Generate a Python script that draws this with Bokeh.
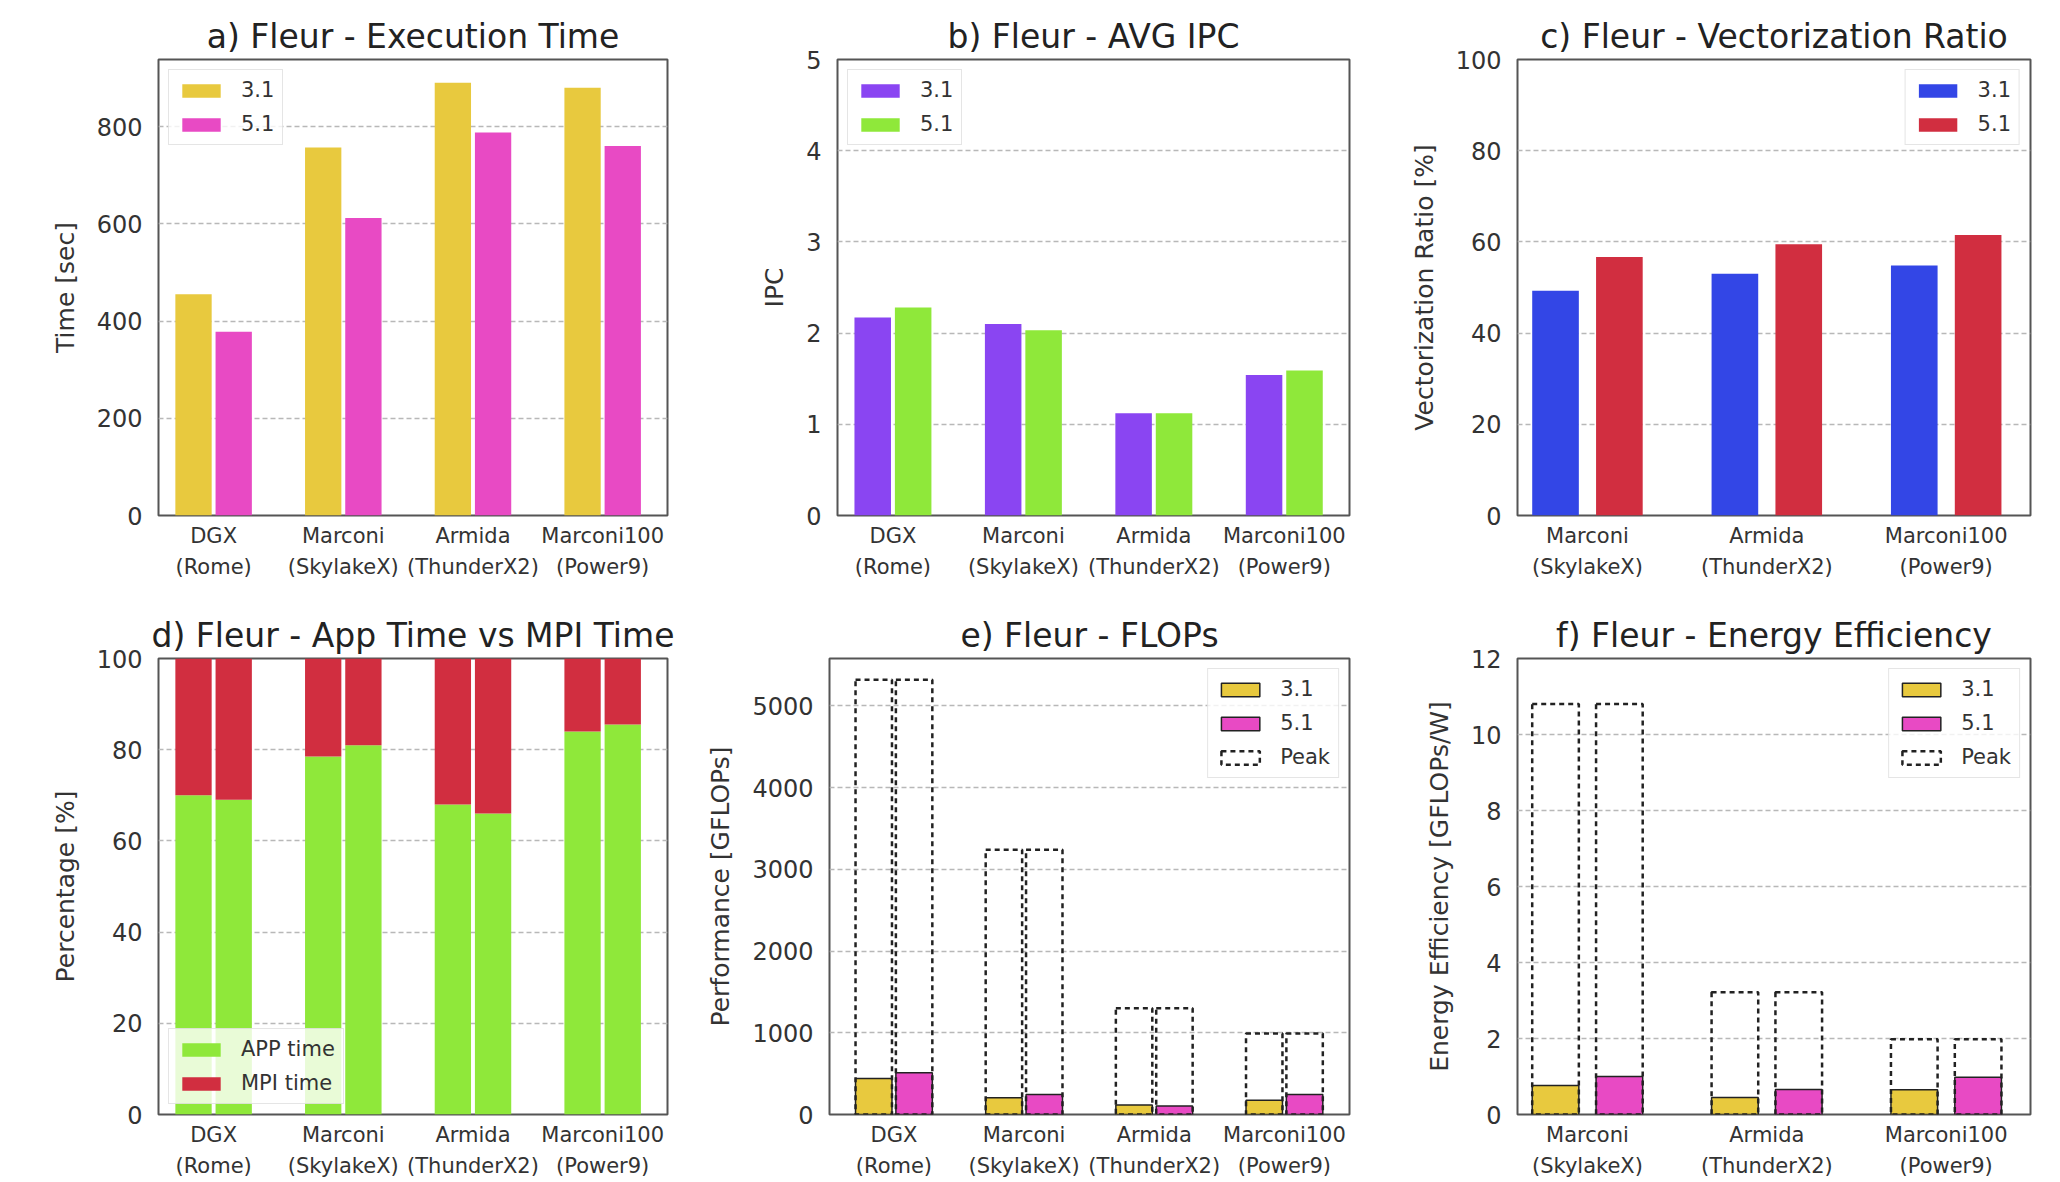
from bokeh.plotting import figure
from bokeh.layouts import column, row
from bokeh.models import FixedTicker, Range1d
from bokeh.embed import file_html
from bokeh.resources import INLINE

# ---------------- data ----------------
systems4 = ["DGX\n(Rome)", "Marconi\n(SkylakeX)", "Armida\n(ThunderX2)", "Marconi100\n(Power9)"]
systems3 = ["Marconi\n(SkylakeX)", "Armida\n(ThunderX2)", "Marconi100\n(Power9)"]

time_31 = [455, 757, 890, 880]
time_51 = [378, 612, 788, 760]

ipc_31 = [2.17, 2.10, 1.12, 1.54]
ipc_51 = [2.28, 2.03, 1.12, 1.59]

vec_31 = [49.3, 53.0, 54.8]
vec_51 = [56.7, 59.5, 61.5]

app_31 = [70.0, 78.5, 68.0, 84.0]
app_51 = [69.0, 81.0, 66.0, 85.5]
mpi_31 = [30.0, 21.5, 32.0, 16.0]
mpi_51 = [31.0, 19.0, 34.0, 14.5]

flops_31 = [440, 205, 115, 175]
flops_51 = [510, 245, 105, 245]
flops_peak = [5320, 3240, 1300, 990]

ee_31 = [0.76, 0.45, 0.65]
ee_51 = [1.00, 0.66, 0.98]
ee_peak = [10.8, 3.22, 1.98]

# ---------------- style ----------------
YELLOW = "#E8C93E"
MAGENTA = "#E84AC4"
PURPLE = "#8A45F2"
GREEN = "#8FE83A"
BLUE = "#3346E6"
RED = "#D12E40"
FONT = "DejaVu Sans"


def make_fig(title, ylabel, xr, yr, yticks, labels, width, left, right, height, top, bottom):
    p = figure(width=width, height=height, x_range=Range1d(*xr), y_range=Range1d(*yr),
               output_backend="svg", toolbar_location=None, tools="",
               min_border_left=left, min_border_right=right,
               min_border_top=top, min_border_bottom=bottom)
    p.title.text = title
    p.title.align = "center"
    p.title.text_font = FONT
    p.title.text_font_size = "33px"
    p.title.text_font_style = "normal"
    p.title.text_color = "#222222"
    p.title.standoff = 8

    p.outline_line_color = "#555555"
    p.outline_line_width = 2
    p.background_fill_color = "white"
    p.border_fill_color = "white"

    p.xgrid.grid_line_color = None
    p.ygrid.grid_line_color = "#b8b8b8"
    p.ygrid.grid_line_dash = "5 3"
    p.ygrid.grid_line_width = 1.5

    p.yaxis.ticker = FixedTicker(ticks=yticks)
    p.xaxis.ticker = FixedTicker(ticks=list(range(len(labels))))
    p.xaxis.major_label_overrides = {i: lab for i, lab in enumerate(labels)}

    for ax in (p.xaxis[0], p.yaxis[0]):
        ax.axis_line_color = None
        ax.major_tick_line_color = None
        ax.minor_tick_line_color = None
        ax.major_tick_out = 0
        ax.major_tick_in = 0
        ax.major_label_text_font = FONT
        ax.major_label_text_color = "#333333"
        ax.axis_label_text_font = FONT
        ax.axis_label_text_font_style = "normal"
        ax.axis_label_text_color = "#333333"
    p.xaxis.major_label_text_font_size = "21px"
    p.xaxis.major_label_text_line_height = 1.3
    p.xaxis.major_label_standoff = 8
    p.yaxis.major_label_text_font_size = "24px"
    p.yaxis.major_label_standoff = 16
    p.yaxis.axis_label = ylabel
    p.yaxis.axis_label_text_font_size = "25px"
    p.yaxis.axis_label_standoff = 14
    return p


def style_legend(p, location):
    lg = p.legend[0]
    lg.location = location
    lg.label_text_font = FONT
    lg.label_text_font_size = "21px"
    lg.label_text_color = "#333333"
    lg.glyph_width = 48
    lg.glyph_height = 17
    lg.spacing = 10
    lg.label_standoff = 16
    lg.padding = 8
    lg.margin = 10
    lg.border_line_color = "#cccccc"
    lg.border_line_width = 1.5
    lg.background_fill_alpha = 0.8


X4 = (-0.425, 3.5)
X4e = (-0.495, 3.5)
X3 = (-0.39, 2.47)
OFF4, W4 = 0.155, 0.28
OFF3, W3 = 0.178, 0.26

idx4 = list(range(len(systems4)))
idx3 = list(range(len(systems3)))
x4a = [i - OFF4 for i in idx4]
x4b = [i + OFF4 for i in idx4]
x3a = [i - OFF3 for i in idx3]
x3b = [i + OFF3 for i in idx3]

TOP_H, TOP_T, TOP_B = 588, 59, 73
BOT_H, BOT_T, BOT_B = 592, 70, 66

PEAK_KW = dict(fill_color=None, line_color="#222222", line_width=2.5, line_dash="5 4")
BAR_KW = dict(line_color="#222222", line_width=1.5)

# a) execution time
pa = make_fig("a) Fleur - Execution Time", "Time [sec]", X4, (0, 938), [0, 200, 400, 600, 800],
              systems4, 688, 158, 21, TOP_H, TOP_T, TOP_B)
pa.vbar(x=x4a, top=time_31, width=W4, fill_color=YELLOW, line_color=None, legend_label="3.1")
pa.vbar(x=x4b, top=time_51, width=W4, fill_color=MAGENTA, line_color=None, legend_label="5.1")
style_legend(pa, "top_left")

# b) IPC
pb = make_fig("b) Fleur - AVG IPC", "IPC", X4, (0, 5), [0, 1, 2, 3, 4, 5],
              systems4, 680, 149, 19, TOP_H, TOP_T, TOP_B)
pb.vbar(x=x4a, top=ipc_31, width=W4, fill_color=PURPLE, line_color=None, legend_label="3.1")
pb.vbar(x=x4b, top=ipc_51, width=W4, fill_color=GREEN, line_color=None, legend_label="5.1")
style_legend(pb, "top_left")

# c) vectorization ratio
pc = make_fig("c) Fleur - Vectorization Ratio", "Vectorization Ratio [%]", X3, (0, 100),
              [0, 20, 40, 60, 80, 100], systems3, 680, 149, 18, TOP_H, TOP_T, TOP_B)
pc.vbar(x=x3a, top=vec_31, width=W3, fill_color=BLUE, line_color=None, legend_label="3.1")
pc.vbar(x=x3b, top=vec_51, width=W3, fill_color=RED, line_color=None, legend_label="5.1")
style_legend(pc, "top_right")

# d) app vs mpi time
pd_ = make_fig("d) Fleur - App Time vs MPI Time", "Percentage [%]", X4, (0, 100),
               [0, 20, 40, 60, 80, 100], systems4, 688, 158, 21, BOT_H, BOT_T, BOT_B)
pd_.vbar(x=x4a, bottom=0, top=app_31, width=W4, fill_color=GREEN, line_color=None, legend_label="APP time")
pd_.vbar(x=x4a, bottom=app_31, top=[a + m for a, m in zip(app_31, mpi_31)], width=W4,
         fill_color=RED, line_color=None, legend_label="MPI time")
pd_.vbar(x=x4b, bottom=0, top=app_51, width=W4, fill_color=GREEN, line_color=None)
pd_.vbar(x=x4b, bottom=app_51, top=[a + m for a, m in zip(app_51, mpi_51)], width=W4,
         fill_color=RED, line_color=None)
style_legend(pd_, "bottom_left")

# e) FLOPs
pe = make_fig("e) Fleur - FLOPs", "Performance [GFLOPs]", X4e, (0, 5580),
              [0, 1000, 2000, 3000, 4000, 5000], systems4, 680, 141, 19, BOT_H, BOT_T, BOT_B)
pe.vbar(x=x4a, top=flops_31, width=W4, fill_color=YELLOW, legend_label="3.1", **BAR_KW)
pe.vbar(x=x4b, top=flops_51, width=W4, fill_color=MAGENTA, legend_label="5.1", **BAR_KW)
pe.vbar(x=x4a, top=flops_peak, width=W4, legend_label="Peak", **PEAK_KW)
pe.vbar(x=x4b, top=flops_peak, width=W4, **PEAK_KW)
style_legend(pe, "top_right")

# f) energy efficiency
pf = make_fig("f) Fleur - Energy Efficiency", "Energy Efficiency [GFLOPs/W]", X3, (0, 12),
              [0, 2, 4, 6, 8, 10, 12], systems3, 680, 149, 18, BOT_H, BOT_T, BOT_B)
pf.vbar(x=x3a, top=ee_31, width=W3, fill_color=YELLOW, legend_label="3.1", **BAR_KW)
pf.vbar(x=x3b, top=ee_51, width=W3, fill_color=MAGENTA, legend_label="5.1", **BAR_KW)
pf.vbar(x=x3a, top=ee_peak, width=W3, legend_label="Peak", **PEAK_KW)
pf.vbar(x=x3b, top=ee_peak, width=W3, **PEAK_KW)
style_legend(pf, "top_right")

layout = column(row(pa, pb, pc), row(pd_, pe, pf))
open("out.html", "w").write(file_html(layout, INLINE))
